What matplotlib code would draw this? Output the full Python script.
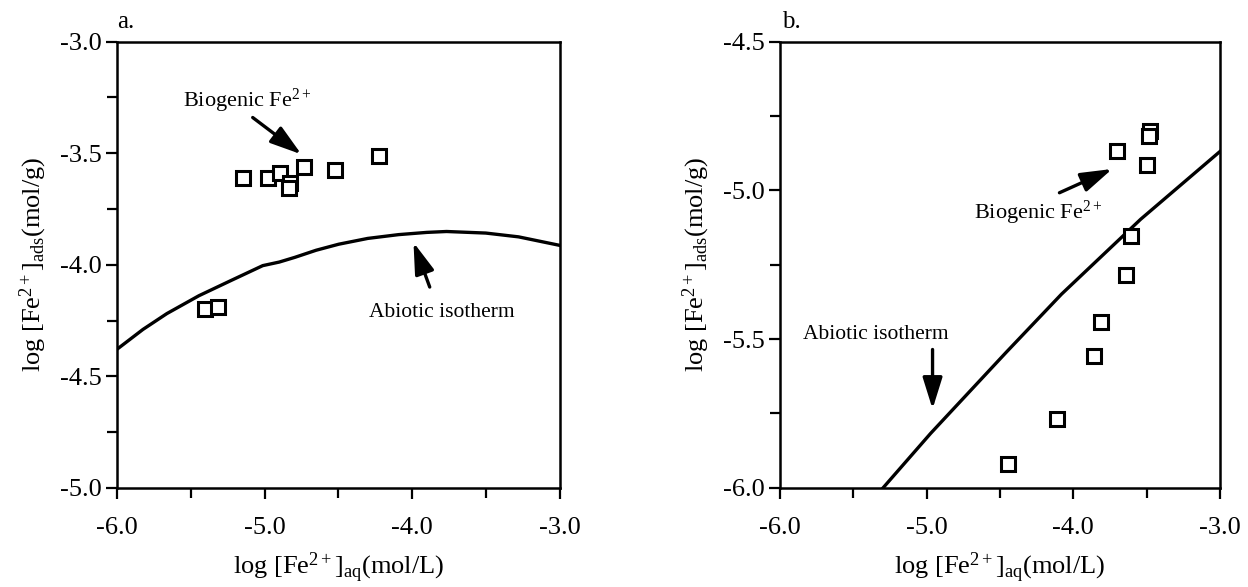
# Fe2+ adsorption: biogenic vs abiotic isotherm, panels a and b
import matplotlib
matplotlib.use('Agg')
import matplotlib.pyplot as plt

plt.rcParams['font.family'] = ['Liberation Serif', 'DejaVu Serif']
plt.rcParams['mathtext.fontset'] = 'custom'
plt.rcParams['mathtext.rm'] = 'Liberation Serif'
plt.rcParams['mathtext.it'] = 'Liberation Serif:italic'
plt.rcParams['mathtext.bf'] = 'Liberation Serif:bold'

# panel a data
a_bio_x = [-5.144, -4.974, -4.895, -4.830, -4.832, -4.730, -4.522, -4.224, -5.404, -5.315]
a_bio_y = [-3.612, -3.612, -3.590, -3.632, -3.655, -3.562, -3.574, -3.514, -4.198, -4.189]
a_iso_x = [-6.0, -5.824, -5.662, -5.445, -5.228, -5.012, -4.90, -4.795, -4.65, -4.497,
           -4.30, -4.091, -3.90, -3.766, -3.50, -3.278, -3.0]
a_iso_y = [-4.379, -4.290, -4.219, -4.139, -4.071, -4.004, -3.988, -3.967, -3.935, -3.908,
           -3.882, -3.865, -3.855, -3.851, -3.858, -3.875, -3.913]

# panel b data
b_bio_x = [-3.705, -3.478, -3.486, -3.495, -3.606, -3.642, -3.811, -3.859, -4.114, -4.444]
b_bio_y = [-4.867, -4.802, -4.816, -4.915, -5.155, -5.283, -5.444, -5.558, -5.770, -5.920]
b_iso_x = [-5.297, -4.973, -4.459, -4.081, -3.811, -3.541, -3.0]
b_iso_y = [-6.0, -5.817, -5.545, -5.349, -5.223, -5.097, -4.869]

xticks = [-6.0, -5.0, -4.0, -3.0]
xlabel = r'log [Fe$^{2+}$]$_{\mathrm{aq}}$(mol/L)'
ylabel = r'log [Fe$^{2+}$]$_{\mathrm{ads}}$(mol/g)'
bio_text = r'Biogenic Fe$^{2+}$'
iso_text = 'Abiotic isotherm'

fig = plt.figure(figsize=(12.48, 5.87), dpi=100)
ax_a = fig.add_axes([0.09375, 0.169, 0.3546, 0.760])
ax_b = fig.add_axes([0.625, 0.169, 0.3526, 0.760])

arrow = dict(arrowstyle='-|>,head_length=0.8,head_width=0.25', color='black',
             lw=2.4, mutation_scale=24, shrinkA=0, shrinkB=0)


def style_axes(ax, ymin, ymax, yticks):
    ax.set_xlim(-6.0, -3.0)
    ax.set_ylim(ymin, ymax)
    ax.set_xticks(xticks)
    ax.set_xticks([-5.5, -4.5, -3.5], minor=True)
    ax.set_yticks(yticks)
    ax.set_yticks([v + 0.25 for v in yticks[:-1]], minor=True)
    ax.set_xticklabels(['%.1f' % v for v in xticks])
    ax.set_yticklabels(['%.1f' % v for v in yticks])
    ax.tick_params(which='both', direction='out', width=1.6, labelsize=19)
    ax.tick_params(which='major', length=8)
    ax.tick_params(which='minor', length=7)
    ax.tick_params(axis='x', pad=13)
    ax.tick_params(axis='y', pad=3)
    ax.tick_params(top=False, right=False)
    for s in ax.spines.values():
        s.set_linewidth(1.8)
    ax.set_xlabel(xlabel, fontsize=19, labelpad=8)
    ax.set_ylabel(ylabel, fontsize=19, labelpad=8)


# --- panel a ---
ax_a.plot(a_iso_x, a_iso_y, color='black', lw=2.4)
ax_a.plot(a_bio_x, a_bio_y, ls='none', marker='s', ms=10.5, mfc='white',
          mec='black', mew=2.2)
style_axes(ax_a, -5.0, -3.0, [-5.0, -4.5, -4.0, -3.5, -3.0])
ax_a.text(-5.12, -3.265, bio_text, fontsize=16, ha='center', va='center')
ax_a.annotate('', xy=(-4.75, -3.505), xytext=(-5.08, -3.34), arrowprops=arrow)
ax_a.text(-3.80, -4.215, iso_text, fontsize=15.5, ha='center', va='center')
ax_a.annotate('', xy=(-3.99, -3.90), xytext=(-3.88, -4.10), arrowprops=arrow)
ax_a.text(0.0, 1.045, 'a.', transform=ax_a.transAxes, fontsize=18,
          ha='left', va='center')

# --- panel b ---
ax_b.plot(b_iso_x, b_iso_y, color='black', lw=2.4)
ax_b.plot(b_bio_x, b_bio_y, ls='none', marker='s', ms=10.5, mfc='white',
          mec='black', mew=2.2)
style_axes(ax_b, -6.0, -4.5, [-6.0, -5.5, -5.0, -4.5])
ax_b.text(-4.24, -5.075, bio_text, fontsize=16, ha='center', va='center')
ax_b.annotate('', xy=(-3.735, -4.928), xytext=(-4.095, -5.008), arrowprops=arrow)
ax_b.text(-5.35, -5.486, iso_text, fontsize=15.5, ha='center', va='center')
ax_b.annotate('', xy=(-4.96, -5.735), xytext=(-4.96, -5.535), arrowprops=arrow)
ax_b.text(0.005, 1.045, 'b.', transform=ax_b.transAxes, fontsize=18,
          ha='left', va='center')

fig.savefig('out.png', dpi=100)
